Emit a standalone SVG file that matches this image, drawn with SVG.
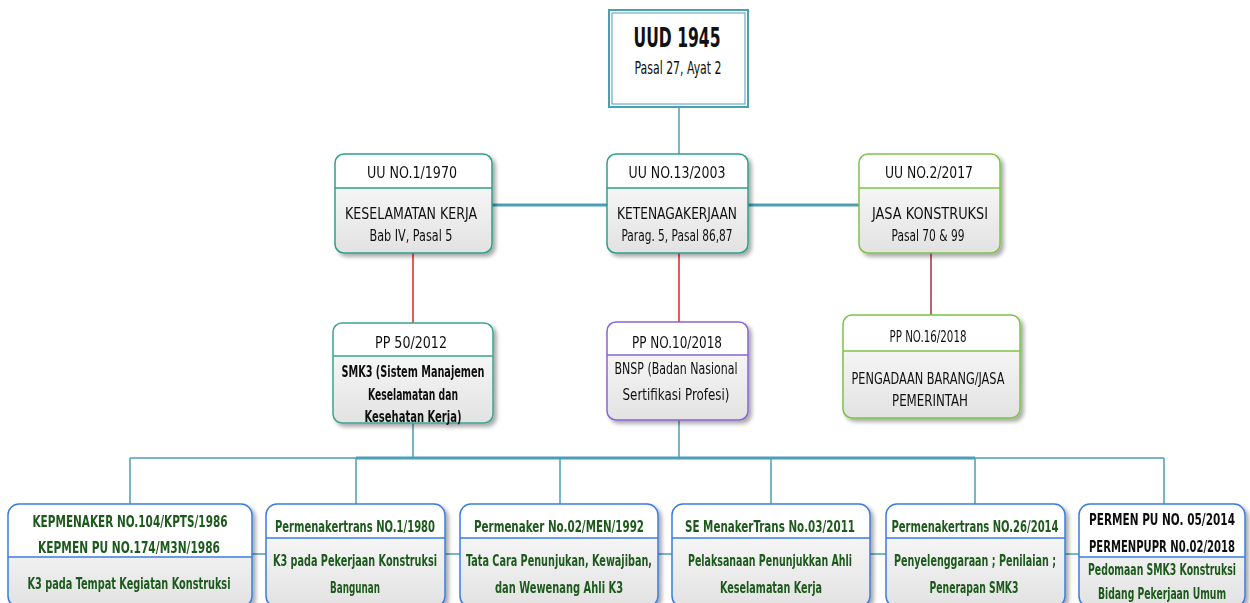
<svg xmlns="http://www.w3.org/2000/svg" width="1250" height="603" viewBox="0 0 1250 603">
<defs>
<linearGradient id="body" x1="0" y1="0" x2="0" y2="1">
<stop offset="0" stop-color="#ffffff"/><stop offset="1" stop-color="#e2e2e2"/>
</linearGradient>
<filter id="sh" x="-10%" y="-10%" width="130%" height="130%">
<feGaussianBlur in="SourceAlpha" stdDeviation="2"/>
<feOffset dx="3" dy="3" result="b"/>
<feComponentTransfer><feFuncA type="linear" slope="0.35"/></feComponentTransfer>
<feMerge><feMergeNode/><feMergeNode in="SourceGraphic"/></feMerge>
</filter>
</defs>
<style>
text{font-family:"DejaVu Sans Condensed","Liberation Sans",sans-serif;text-anchor:middle;font-size:16px;fill:#111}
.g{fill:#1d5a1d;font-weight:bold}
.b{font-weight:bold}
.hd{fill:#fff}
.bd{fill:url(#body)}
.c{fill:none;stroke:#4a9fb5;stroke-width:1.5}
.ct{fill:none;stroke:#4a9fb5;stroke-width:3}
.r{fill:none;stroke:#e8202a;stroke-width:1.5}
</style>
<g id="connectors">
<path class="c" d="M679 107V205"/>
<path class="ct" d="M492 205H859"/>
<path class="r" d="M413 253V323M679 253V322"/>
<path fill="none" stroke="#a0304a" stroke-width="1.5" d="M931 253V315"/>
<path class="c" d="M413 423V458M679 420V458"/>
<path class="c" d="M130 458H356M975 458H1164"/>
<path class="ct" d="M356 458H975"/>
<path class="c" d="M130 458V504M356 458V504M560 458V504M771 458V504M975 458V504M1164 458V504"/>
<path class="c" d="M252 554H1079"/>
</g>
<g id="uud1945">
<rect x="609" y="10" width="139" height="97" fill="#fff" stroke="#4a9fb5" stroke-width="2"/>
<rect x="612" y="13" width="133" height="91" fill="none" stroke="#4a9fb5" stroke-width="1"/>
<text transform="matrix(0.8 0 0 1 677 0)" x="0" y="47" class="b" style="font-size:26px" textLength="108.75" lengthAdjust="spacingAndGlyphs">UUD 1945</text>
<text transform="matrix(0.8 0 0 1 678 0)" x="0" y="74" style="font-size:17px" textLength="108.75" lengthAdjust="spacingAndGlyphs">Pasal 27, Ayat 2</text>
</g>
<g id="uu1970" filter="url(#sh)">
<rect x="335" y="154" width="157" height="99" rx="9" class="bd"/>
<path d="M344 154H483A9 9 0 0 1 492 163V188H335V163A9 9 0 0 1 344 154Z" class="hd"/>
<rect x="335" y="154" width="157" height="99" rx="9" fill="none" stroke="#2e9e8a" stroke-width="1.5"/>
<path d="M335 188H492" stroke="#2e9e8a" stroke-width="1.5"/>
<text transform="matrix(0.8 0 0 1 412 0)" x="0" y="178" textLength="112.5" lengthAdjust="spacingAndGlyphs">UU NO.1/1970</text>
<text transform="matrix(0.8 0 0 1 411 0)" x="0" y="219" textLength="165" lengthAdjust="spacingAndGlyphs">KESELAMATAN KERJA</text>
<text transform="matrix(0.8 0 0 1 411 0)" x="0" y="241" textLength="103.75" lengthAdjust="spacingAndGlyphs">Bab IV, Pasal 5</text>
</g>
<g id="uu2003" filter="url(#sh)">
<rect x="607" y="154" width="141" height="99" rx="9" class="bd"/>
<path d="M616 154H739A9 9 0 0 1 748 163V188H607V163A9 9 0 0 1 616 154Z" class="hd"/>
<rect x="607" y="154" width="141" height="99" rx="9" fill="none" stroke="#2e9e8a" stroke-width="1.5"/>
<path d="M607 188H748" stroke="#2e9e8a" stroke-width="1.5"/>
<text transform="matrix(0.8 0 0 1 677 0)" x="0" y="178" textLength="121.25" lengthAdjust="spacingAndGlyphs">UU NO.13/2003</text>
<text transform="matrix(0.8 0 0 1 677 0)" x="0" y="219" textLength="150" lengthAdjust="spacingAndGlyphs">KETENAGAKERJAAN</text>
<text transform="matrix(0.8 0 0 1 677 0)" x="0" y="241" textLength="138.75" lengthAdjust="spacingAndGlyphs">Parag. 5, Pasal 86,87</text>
</g>
<g id="uu2017" filter="url(#sh)">
<rect x="859" y="154" width="141" height="99" rx="9" class="bd"/>
<path d="M868 154H991A9 9 0 0 1 1000 163V188H859V163A9 9 0 0 1 868 154Z" class="hd"/>
<rect x="859" y="154" width="141" height="99" rx="9" fill="none" stroke="#7dc34a" stroke-width="1.5"/>
<path d="M859 188H1000" stroke="#7dc34a" stroke-width="1.5"/>
<text transform="matrix(0.8 0 0 1 929 0)" x="0" y="178" textLength="110" lengthAdjust="spacingAndGlyphs">UU NO.2/2017</text>
<text transform="matrix(0.8 0 0 1 930 0)" x="0" y="219" textLength="145" lengthAdjust="spacingAndGlyphs">JASA KONSTRUKSI</text>
<text transform="matrix(0.8 0 0 1 928 0)" x="0" y="241" textLength="91.25" lengthAdjust="spacingAndGlyphs">Pasal 70 &amp; 99</text>
</g>
<g id="pp50" filter="url(#sh)">
<rect x="333" y="323" width="160" height="100" rx="9" class="bd"/>
<path d="M342 323H484A9 9 0 0 1 493 332V356H333V332A9 9 0 0 1 342 323Z" class="hd"/>
<rect x="333" y="323" width="160" height="100" rx="9" fill="none" stroke="#3aa58f" stroke-width="1.5"/>
<path d="M333 356H493" stroke="#3aa58f" stroke-width="1.5"/>
<text transform="matrix(0.8 0 0 1 411 0)" x="0" y="348" textLength="90" lengthAdjust="spacingAndGlyphs">PP 50/2012</text>
<text transform="matrix(0.8 0 0 1 413 0)" x="0" y="377" class="b" textLength="178.75" lengthAdjust="spacingAndGlyphs">SMK3 (Sistem Manajemen</text>
<text transform="matrix(0.8 0 0 1 413 0)" x="0" y="400" class="b" textLength="112.5" lengthAdjust="spacingAndGlyphs">Keselamatan dan</text>
<text transform="matrix(0.8 0 0 1 413 0)" x="0" y="422" class="b" textLength="121.25" lengthAdjust="spacingAndGlyphs">Kesehatan Kerja)</text>
</g>
<g id="pp10" filter="url(#sh)">
<rect x="607" y="322" width="141" height="98" rx="9" class="bd"/>
<path d="M616 322H739A9 9 0 0 1 748 331V355H607V331A9 9 0 0 1 616 322Z" class="hd"/>
<rect x="607" y="322" width="141" height="98" rx="9" fill="none" stroke="#8a63d2" stroke-width="1.5"/>
<path d="M607 355H748" stroke="#8a63d2" stroke-width="1.5"/>
<text transform="matrix(0.8 0 0 1 677 0)" x="0" y="348" textLength="112.5" lengthAdjust="spacingAndGlyphs">PP NO.10/2018</text>
<text transform="matrix(0.8 0 0 1 676 0)" x="0" y="374" textLength="153.75" lengthAdjust="spacingAndGlyphs">BNSP (Badan Nasional</text>
<text transform="matrix(0.8 0 0 1 676 0)" x="0" y="400" textLength="133.75" lengthAdjust="spacingAndGlyphs">Sertifikasi Profesi)</text>
</g>
<g id="pp16" filter="url(#sh)">
<rect x="843" y="315" width="177" height="103" rx="9" class="bd"/>
<path d="M852 315H1011A9 9 0 0 1 1020 324V351H843V324A9 9 0 0 1 852 315Z" class="hd"/>
<rect x="843" y="315" width="177" height="103" rx="9" fill="none" stroke="#7cc444" stroke-width="1.5"/>
<path d="M843 351H1020" stroke="#7cc444" stroke-width="1.5"/>
<text transform="matrix(0.8 0 0 1 928 0)" x="0" y="342" style="font-size:15px" textLength="96.25" lengthAdjust="spacingAndGlyphs">PP NO.16/2018</text>
<text transform="matrix(0.8 0 0 1 928 0)" x="0" y="384" textLength="191.25" lengthAdjust="spacingAndGlyphs">PENGADAAN BARANG/JASA</text>
<text transform="matrix(0.8 0 0 1 930 0)" x="0" y="406" textLength="95" lengthAdjust="spacingAndGlyphs">PEMERINTAH</text>
</g>
<g id="kepmenaker" filter="url(#sh)">
<rect x="8" y="504" width="244" height="103" rx="11" class="bd"/>
<path d="M19 504H241A11 11 0 0 1 252 515V557H8V515A11 11 0 0 1 19 504Z" class="hd"/>
<rect x="8" y="504" width="244" height="103" rx="11" fill="none" stroke="#3a7de0" stroke-width="1.5"/>
<path d="M8 557H252" stroke="#3a7de0" stroke-width="1.5"/>
<text transform="matrix(0.7 0 0 1 130 0)" x="0" y="527" class="g" textLength="278.6" lengthAdjust="spacingAndGlyphs">KEPMENAKER NO.104/KPTS/1986</text>
<text transform="matrix(0.7 0 0 1 129 0)" x="0" y="553" class="g" textLength="260" lengthAdjust="spacingAndGlyphs">KEPMEN PU NO.174/M3N/1986</text>
<text transform="matrix(0.7 0 0 1 129 0)" x="0" y="589" class="g" textLength="290" lengthAdjust="spacingAndGlyphs">K3 pada Tempat Kegiatan Konstruksi</text>
</g>
<g id="permen1980" filter="url(#sh)">
<rect x="266" y="504" width="179" height="103" rx="11" class="bd"/>
<path d="M277 504H434A11 11 0 0 1 445 515V538H266V515A11 11 0 0 1 277 504Z" class="hd"/>
<rect x="266" y="504" width="179" height="103" rx="11" fill="none" stroke="#3a7de0" stroke-width="1.5"/>
<path d="M266 538H445" stroke="#3a7de0" stroke-width="1.5"/>
<text transform="matrix(0.7 0 0 1 355 0)" x="0" y="532" class="g" textLength="228.6" lengthAdjust="spacingAndGlyphs">Permenakertrans NO.1/1980</text>
<text transform="matrix(0.7 0 0 1 355 0)" x="0" y="566" class="g" textLength="234.3" lengthAdjust="spacingAndGlyphs">K3 pada Pekerjaan Konstruksi</text>
<text transform="matrix(0.7 0 0 1 355 0)" x="0" y="593" class="g" textLength="71.4" lengthAdjust="spacingAndGlyphs">Bangunan</text>
</g>
<g id="permen1992" filter="url(#sh)">
<rect x="460" y="504" width="198" height="103" rx="11" class="bd"/>
<path d="M471 504H647A11 11 0 0 1 658 515V538H460V515A11 11 0 0 1 471 504Z" class="hd"/>
<rect x="460" y="504" width="198" height="103" rx="11" fill="none" stroke="#3a7de0" stroke-width="1.5"/>
<path d="M460 538H658" stroke="#3a7de0" stroke-width="1.5"/>
<text transform="matrix(0.7 0 0 1 559 0)" x="0" y="532" class="g" textLength="242.9" lengthAdjust="spacingAndGlyphs">Permenaker No.02/MEN/1992</text>
<text transform="matrix(0.7 0 0 1 559 0)" x="0" y="566" class="g" textLength="265.7" lengthAdjust="spacingAndGlyphs">Tata Cara Penunjukan, Kewajiban,</text>
<text transform="matrix(0.7 0 0 1 559 0)" x="0" y="593" class="g" textLength="182.9" lengthAdjust="spacingAndGlyphs">dan Wewenang Ahli K3</text>
</g>
<g id="se2011" filter="url(#sh)">
<rect x="672" y="504" width="198" height="103" rx="11" class="bd"/>
<path d="M683 504H859A11 11 0 0 1 870 515V538H672V515A11 11 0 0 1 683 504Z" class="hd"/>
<rect x="672" y="504" width="198" height="103" rx="11" fill="none" stroke="#3a7de0" stroke-width="1.5"/>
<path d="M672 538H870" stroke="#3a7de0" stroke-width="1.5"/>
<text transform="matrix(0.7 0 0 1 770 0)" x="0" y="532" class="g" textLength="242.9" lengthAdjust="spacingAndGlyphs">SE MenakerTrans No.03/2011</text>
<text transform="matrix(0.7 0 0 1 770 0)" x="0" y="566" class="g" textLength="234.3" lengthAdjust="spacingAndGlyphs">Pelaksanaan Penunjukkan Ahli</text>
<text transform="matrix(0.7 0 0 1 771 0)" x="0" y="593" class="g" textLength="145.7" lengthAdjust="spacingAndGlyphs">Keselamatan Kerja</text>
</g>
<g id="permen2014" filter="url(#sh)">
<rect x="886" y="504" width="179" height="103" rx="11" class="bd"/>
<path d="M897 504H1054A11 11 0 0 1 1065 515V538H886V515A11 11 0 0 1 897 504Z" class="hd"/>
<rect x="886" y="504" width="179" height="103" rx="11" fill="none" stroke="#3a7de0" stroke-width="1.5"/>
<path d="M886 538H1065" stroke="#3a7de0" stroke-width="1.5"/>
<text transform="matrix(0.7 0 0 1 975 0)" x="0" y="532" class="g" textLength="238.6" lengthAdjust="spacingAndGlyphs">Permenakertrans NO.26/2014</text>
<text transform="matrix(0.7 0 0 1 975 0)" x="0" y="566" class="g" textLength="231.4" lengthAdjust="spacingAndGlyphs">Penyelenggaraan ; Penilaian ;</text>
<text transform="matrix(0.7 0 0 1 974 0)" x="0" y="593" class="g" textLength="127.1" lengthAdjust="spacingAndGlyphs">Penerapan SMK3</text>
</g>
<g id="permenpu" filter="url(#sh)">
<rect x="1079" y="504" width="166" height="103" rx="11" class="bd"/>
<path d="M1090 504H1234A11 11 0 0 1 1245 515V557H1079V515A11 11 0 0 1 1090 504Z" class="hd"/>
<rect x="1079" y="504" width="166" height="103" rx="11" fill="none" stroke="#3a7de0" stroke-width="1.5"/>
<path d="M1079 557H1245" stroke="#3a7de0" stroke-width="1.5"/>
<text transform="matrix(0.7 0 0 1 1162 0)" x="0" y="525" class="b" textLength="208.6" lengthAdjust="spacingAndGlyphs">PERMEN PU NO. 05/2014</text>
<text transform="matrix(0.7 0 0 1 1162 0)" x="0" y="552" class="b" textLength="208.6" lengthAdjust="spacingAndGlyphs">PERMENPUPR N0.02/2018</text>
<text transform="matrix(0.7 0 0 1 1162 0)" x="0" y="575" class="g" textLength="211.4" lengthAdjust="spacingAndGlyphs">Pedomaan SMK3 Konstruksi</text>
<text transform="matrix(0.7 0 0 1 1162 0)" x="0" y="599" class="g" textLength="182.9" lengthAdjust="spacingAndGlyphs">Bidang Pekerjaan Umum</text>
</g>
</svg>
